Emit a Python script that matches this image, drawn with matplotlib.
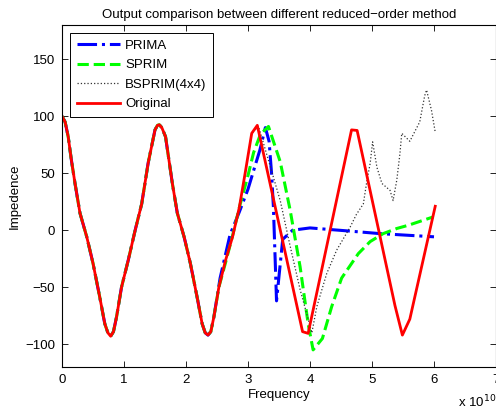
import matplotlib
matplotlib.use("Agg")
import matplotlib.pyplot as plt

plt.rcParams['font.family'] = ['Liberation Sans', 'DejaVu Sans']

# Frequency in units of 1e10 Hz
shared_freq = [0.0, 0.05, 0.1, 0.15, 0.21, 0.29, 0.4, 0.5, 0.61, 0.69, 0.74, 0.785, 0.83, 0.88,
               0.96, 1.07, 1.18, 1.285, 1.39, 1.5, 1.54, 1.57, 1.61, 1.67, 1.78, 1.86, 1.97,
               2.07, 2.18, 2.26, 2.31, 2.355, 2.40, 2.45]
shared_imp = [100, 95, 82, 62, 41, 15, -6, -29, -59, -82, -90, -93, -89, -76,
              -50, -26, 0, 23, 59, 88, 92, 92.5, 90, 82, 41, 15, -6,
              -29, -59, -82, -90, -92, -89, -76]

orig_freq = [2.53, 2.64, 2.75, 2.86, 2.96, 3.06, 3.15, 3.88, 3.97, 4.67, 4.76, 5.37, 5.49, 5.61, 6.02]
orig_imp = [-50, -26, -6, 20, 52, 85, 92, -89, -90.5, 88, 87.5, -66, -92, -78, 21]

prima_freq = [2.55, 2.71, 2.86, 3.0, 3.1, 3.19, 3.28, 3.34, 3.38, 3.41, 3.44, 3.46, 3.56, 3.72,
              4.0, 4.6, 5.13, 6.0]
prima_imp = [-42, -4, 16, 36, 54, 70, 90, 78, 50, 20, -29, -62, -8, 0,
             2, -0.6, -3, -5.8]

sprim_freq = [2.53, 2.64, 2.75, 2.87, 3.0, 3.09, 3.2, 3.33, 3.52, 3.68, 3.84, 3.97, 4.05, 4.2,
              4.35, 4.51, 4.78, 4.97, 5.18, 5.4, 5.59, 5.99]
sprim_imp = [-50, -28, -5, 22, 48, 68, 84, 91, 60, 17.5, -32, -82, -105, -95,
             -67, -42, -20.5, -10, -3, 1.5, 4.4, 11.7]

bsprim_freq = [2.53, 2.64, 2.75, 2.86, 2.96, 3.06, 3.17, 3.52, 3.68, 3.84, 4.03, 4.11, 4.27,
               4.43, 4.65, 4.75, 4.86, 4.92, 4.97, 5.01, 5.08, 5.16, 5.29, 5.34, 5.40, 5.45,
               5.48, 5.61, 5.77, 5.85, 5.88, 5.96, 6.02]
bsprim_imp = [-50, -26, -6, 20, 52, 85, 91, 26, -14, -52, -90, -67, -38,
              -17.5, 3, 14, 23, 44, 58.5, 77.5, 55, 41, 35, 26, 44, 67,
              85, 78, 95, 118, 123, 105, 86]

FS = 9.5

fig = plt.figure(figsize=(4.96, 4.08), dpi=100)
ax = fig.add_axes([62/496, 41/408, 434/496, 342/408])

ax.plot(shared_freq + prima_freq, shared_imp + prima_imp, color='#0000ff', ls='-.', lw=2.2, label='PRIMA')
ax.plot(shared_freq + sprim_freq, shared_imp + sprim_imp, color='#00ff00', ls='--', lw=2.2, label='SPRIM')
ax.plot(shared_freq + bsprim_freq, shared_imp + bsprim_imp, color='#333333', ls=':', lw=0.9, label='BSPRIM(4x4)')
ax.plot(shared_freq + orig_freq, shared_imp + orig_imp, color='#ff0000', ls='-', lw=2.0, label='Original')

ax.set_xlim(0, 7)
ax.set_ylim(-120, 180)
ax.set_xticks(range(0, 8))
ax.set_yticks([-100, -50, 0, 50, 100, 150])
ax.tick_params(direction='in', top=True, right=True, length=4, width=0.6, labelsize=FS, pad=5)
for s in ax.spines.values():
    s.set_linewidth(0.8)

ax.set_xlabel('Frequency', fontsize=FS, labelpad=2)
ax.set_ylabel('Impedence', fontsize=FS, labelpad=3)
ax.set_title('Output comparison between different reduced\u2212order method', fontsize=FS, pad=5)
fig.text(458/496, 1 - 402/408, 'x 10$^{10}$', fontsize=FS, ha='left', va='center')

leg = ax.legend(loc='upper left', fontsize=FS, handlelength=3.3, handletextpad=0.38,
                labelspacing=0.55, borderpad=0.5, borderaxespad=0.6, fancybox=False,
                framealpha=1, edgecolor='black')
leg.get_frame().set_linewidth(0.7)

fig.savefig('out.png', dpi=100)
